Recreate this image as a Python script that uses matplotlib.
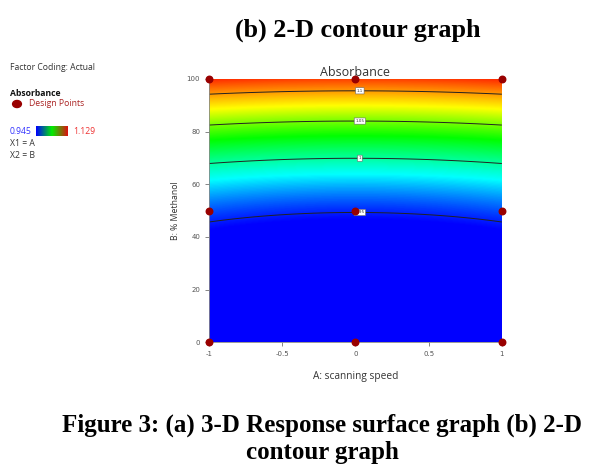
import numpy as np
import matplotlib
matplotlib.use('Agg')
import matplotlib.pyplot as plt
from matplotlib.colors import LinearSegmentedColormap

# Design points (A coded, B % methanol)
design_a = [-1, 0, 1, -1, 0, 1, -1, 0, 1]
design_b = [0, 0, 0, 50, 50, 50, 100, 100, 100]

# Quadratic model: y = b0 + bB*u + bBB*u^2 + bAA*A^2, u = B/100
b0 = 0.940
bB = -0.1367
bBB = 0.3186
bAA = 0.006

# Colour scale limits and contour levels
z_min = 0.945
z_max = 1.129
levels = [0.95, 1.0, 1.05, 1.1]
level_labels = ['0.95', '1', '1.05', '1.1']

x_ticks = [-1, -0.5, 0, 0.5, 1]
x_tick_labels = ['-1', '-0.5', '0', '0.5', '1']
y_ticks = [0, 20, 40, 60, 80, 100]

# Design-Expert style colours
cmap = LinearSegmentedColormap.from_list(
    'de', [(0.0, '#0000ff'), (0.2, '#00ffff'), (0.45, '#00ff00'),
           (0.7, '#ffff00'), (1.0, '#ff2000')])
cmap_key = LinearSegmentedColormap.from_list('key', ['#0000ff', '#00ee00', '#dd1010'])

fig = plt.figure(figsize=(5.89, 4.70), dpi=100)
ax = fig.add_axes([0.355, 0.272, 0.497, 0.560])

a = np.linspace(-1, 1, 201)
b = np.linspace(0, 100, 401)
A, B = np.meshgrid(a, b)
U = B / 100
Z = b0 + bB * U + bBB * U ** 2 + bAA * A ** 2

ax.imshow(np.clip(Z, z_min, z_max), extent=[-1, 1, 0, 100], origin='lower',
          aspect='auto', cmap=cmap, vmin=z_min, vmax=z_max, interpolation='bilinear')
cs = ax.contour(A, B, Z, levels=levels, colors='#222222', linewidths=0.7)

# contour labels with white boxes, just right of centre
fmt = dict(zip(cs.levels, level_labels))
label_pos = []
for lv in levels:
    col = b0 + bAA * 0.03 ** 2
    u = (-bB + np.sqrt(bB ** 2 - 4 * bBB * (col - lv))) / (2 * bBB)
    label_pos.append((0.03, u * 100))
lbls = ax.clabel(cs, fmt=fmt, fontsize=3, manual=label_pos, inline=False, colors='#333333')
for t in lbls:
    t.set_bbox(dict(facecolor='white', edgecolor='#666666', linewidth=0.4, pad=0.8))

ax.scatter(design_a, design_b, s=22, color='#990000', zorder=5, clip_on=False)

ax.set_xlim(-1, 1)
ax.set_ylim(0, 100)
ax.set_xticks(x_ticks)
ax.set_xticklabels(x_tick_labels)
ax.set_yticks(y_ticks)
ax.tick_params(labelsize=5, colors='#555555', length=3, width=0.5)
for s in ['top', 'right']:
    ax.spines[s].set_visible(False)
for s in ['left', 'bottom']:
    ax.spines[s].set_color('#888888')
    ax.spines[s].set_linewidth(0.6)

ax.set_title('Absorbance', fontsize=9, color='#333333', pad=1, family='Open Sans')
ax.set_xlabel('A: scanning speed', fontsize=7.3, color='#333333', labelpad=10, family='Open Sans')
ax.set_ylabel('B: % Methanol', fontsize=6.3, color='#333333', labelpad=5, family='Open Sans')

# left legend panel
fig.text(10 / 589, 1 - 68 / 470, 'Factor Coding: Actual', fontsize=6.2, color='#333333',
         va='center', family='Open Sans')
fig.text(10 / 589, 1 - 93 / 470, 'Absorbance', fontsize=6.2, color='#111111',
         va='center', weight='bold', family='Open Sans')
fig.add_artist(plt.Circle((17 / 589, 1 - 104 / 470), 0.0075, transform=fig.transFigure,
                          color='#990000'))
fig.text(29 / 589, 1 - 104 / 470, 'Design Points', fontsize=6.2, color='#aa2222',
         va='center', family='Open Sans')
fig.text(10 / 589, 1 - 131 / 470, '0.945', fontsize=6.2, color='#3333ff',
         va='center', family='Open Sans')
cax = fig.add_axes([36 / 589, 1 - 136 / 470, 32 / 589, 10 / 470])
cax.imshow(np.linspace(0, 1, 100)[None, :], aspect='auto', cmap=cmap_key)
cax.axis('off')
fig.text(73 / 589, 1 - 131 / 470, '1.129', fontsize=6.2, color='#ee3333',
         va='center', family='Open Sans')
fig.text(10 / 589, 1 - 144 / 470, 'X1 = A', fontsize=6.2, color='#333333',
         va='center', family='Open Sans')
fig.text(10 / 589, 1 - 155 / 470, 'X2 = B', fontsize=6.2, color='#333333',
         va='center', family='Open Sans')

# headings
fig.text(358 / 589, 1 - 30 / 470, '(b) 2-D contour graph', fontsize=18.8, weight='bold',
         ha='center', va='center', family='Liberation Serif')
fig.text(322 / 589, 1 - 425 / 470, 'Figure 3: (a) 3-D Response surface graph (b) 2-D',
         fontsize=18, weight='bold', ha='center', va='center', family='Liberation Serif')
fig.text(322 / 589, 1 - 452 / 470, 'contour graph', fontsize=18, weight='bold',
         ha='center', va='center', family='Liberation Serif')

fig.savefig('out.png', dpi=100)
